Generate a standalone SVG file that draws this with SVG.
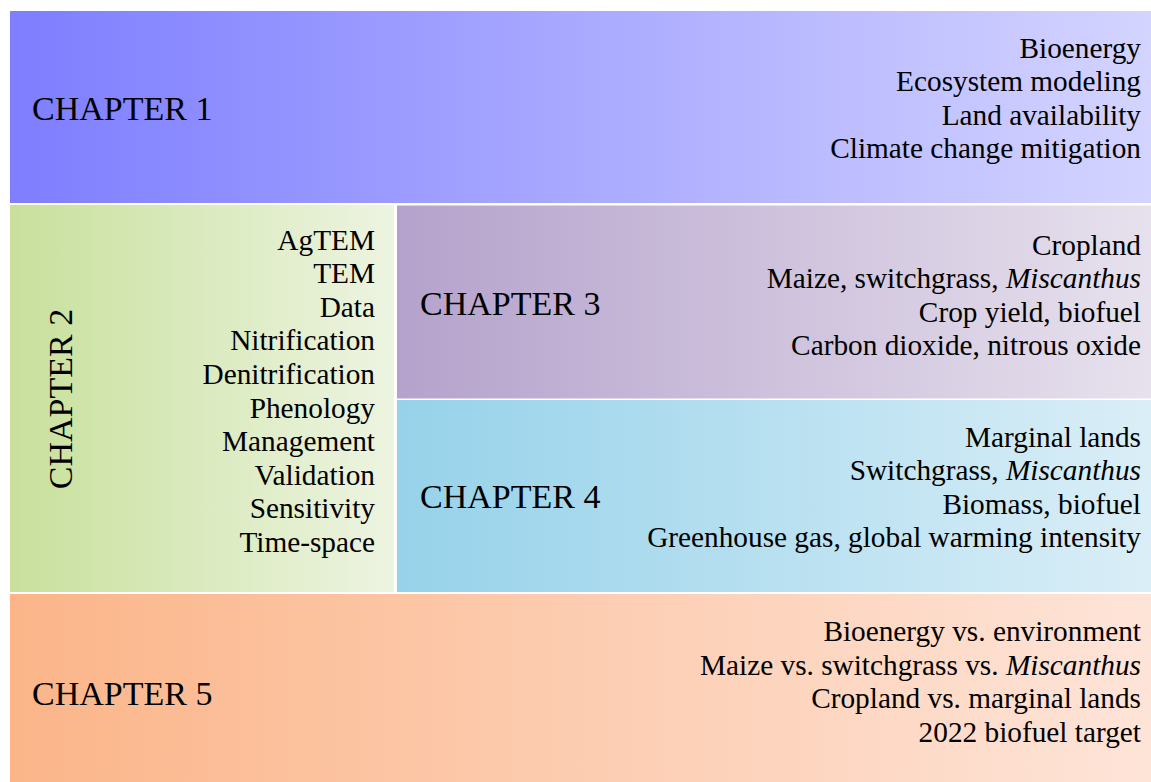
<svg xmlns="http://www.w3.org/2000/svg" width="1151" height="782" viewBox="0 0 1151 782">
  <style>
    text { font-family: "Liberation Serif", "Times New Roman", serif; fill: #000; }
    .title { font-size: 34px; }
    .item { font-size: 29.3px; text-anchor: end; }
    .it { font-style: italic; }
  </style>
  <defs>
    <linearGradient id="g1" x1="0" y1="0" x2="1" y2="0">
      <stop offset="0" stop-color="#7e7eff"/>
      <stop offset="1" stop-color="#d4d4ff"/>
    </linearGradient>
    <linearGradient id="g2" x1="0" y1="0" x2="1" y2="0">
      <stop offset="0" stop-color="#c8e09c"/>
      <stop offset="1" stop-color="#edf4e1"/>
    </linearGradient>
    <linearGradient id="g3" x1="0" y1="0" x2="1" y2="0">
      <stop offset="0" stop-color="#b5a2cc"/>
      <stop offset="1" stop-color="#e7e1ed"/>
    </linearGradient>
    <linearGradient id="g4" x1="0" y1="0" x2="1" y2="0">
      <stop offset="0" stop-color="#96d2ea"/>
      <stop offset="1" stop-color="#daeef7"/>
    </linearGradient>
    <linearGradient id="g5" x1="0" y1="0" x2="1" y2="0">
      <stop offset="0" stop-color="#fbb589"/>
      <stop offset="1" stop-color="#fee4d8"/>
    </linearGradient>
  </defs>

  <rect width="1151" height="782" fill="#fff"/>

  <g id="chapter1">
    <rect x="10" y="11" width="1141" height="192" fill="url(#g1)"/>
    <text class="title" x="32" y="120">CHAPTER 1</text>
    <text class="item" x="1141" y="57.5">Bioenergy</text>
    <text class="item" x="1141" y="91">Ecosystem modeling</text>
    <text class="item" x="1141" y="124.6">Land availability</text>
    <text class="item" x="1141" y="158.2">Climate change mitigation</text>
  </g>

  <g id="chapter2">
    <rect x="10" y="205" width="384" height="387" fill="url(#g2)"/>
    <text class="title" transform="translate(72,399) rotate(-90)" text-anchor="middle">CHAPTER 2</text>
    <text class="item" x="375" y="249.5">AgTEM</text>
    <text class="item" x="375" y="283.1">TEM</text>
    <text class="item" x="375" y="316.7">Data</text>
    <text class="item" x="375" y="350.3">Nitrification</text>
    <text class="item" x="375" y="383.9">Denitrification</text>
    <text class="item" x="375" y="417.5">Phenology</text>
    <text class="item" x="375" y="451.1">Management</text>
    <text class="item" x="375" y="484.7">Validation</text>
    <text class="item" x="375" y="518.3">Sensitivity</text>
    <text class="item" x="375" y="551.9">Time-space</text>
  </g>

  <g id="chapter3">
    <rect x="397" y="205.5" width="754" height="193" fill="url(#g3)"/>
    <text class="title" x="420" y="315">CHAPTER 3</text>
    <text class="item" x="1141" y="254.5">Cropland</text>
    <text class="item" x="1141" y="288">Maize, switchgrass, <tspan class="it">Miscanthus</tspan></text>
    <text class="item" x="1141" y="321.6">Crop yield, biofuel</text>
    <text class="item" x="1141" y="355.2">Carbon dioxide, nitrous oxide</text>
  </g>

  <g id="chapter4">
    <rect x="397" y="400" width="754" height="192" fill="url(#g4)"/>
    <text class="title" x="420" y="508">CHAPTER 4</text>
    <text class="item" x="1141" y="446.5">Marginal lands</text>
    <text class="item" x="1141" y="480">Switchgrass, <tspan class="it">Miscanthus</tspan></text>
    <text class="item" x="1141" y="513.6">Biomass, biofuel</text>
    <text class="item" x="1141" y="547.2">Greenhouse gas, global warming intensity</text>
  </g>

  <g id="chapter5">
    <rect x="10" y="594" width="1141" height="188" fill="url(#g5)"/>
    <text class="title" x="32" y="705">CHAPTER 5</text>
    <text class="item" x="1141" y="641">Bioenergy vs. environment</text>
    <text class="item" x="1141" y="674.6">Maize vs. switchgrass vs. <tspan class="it">Miscanthus</tspan></text>
    <text class="item" x="1141" y="708.2">Cropland vs. marginal lands</text>
    <text class="item" x="1141" y="741.8">2022 biofuel target</text>
  </g>

  <g id="connectors"/>
</svg>
